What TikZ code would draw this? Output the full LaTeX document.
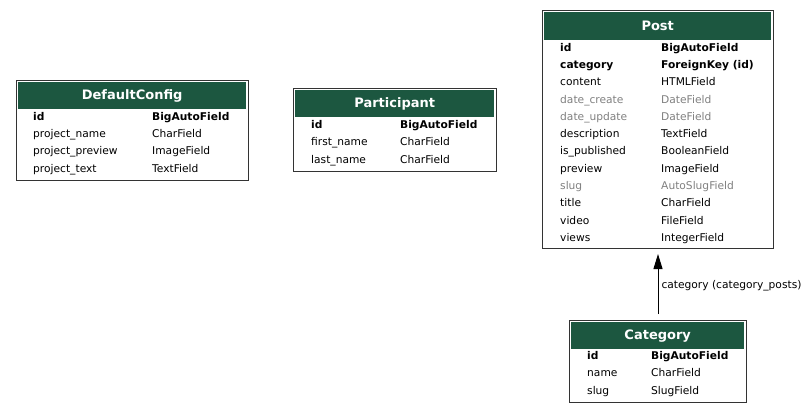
\documentclass[tikz,border=0pt]{standalone}
\usepackage{fontspec}
\setmainfont{DejaVu Sans}
\usetikzlibrary{arrows.meta}
\definecolor{headgreen}{HTML}{1C5740}
\definecolor{dimtext}{HTML}{808080}

\begin{document}
\begin{tikzpicture}
[x=1pt,y=-1pt,%
  model/.style={draw=black!80,line width=1pt,anchor=north west,inner sep=0pt},%
  head/.style={fill=headgreen,anchor=north west,inner sep=0pt,text=white,%
    font=\fontsize{13}{15}\selectfont\bfseries},%
  fld/.style={anchor=west,inner sep=0pt,text height=9pt,text depth=1pt,%
    font=\fontsize{10.67}{12}\selectfont},%
  pkfld/.style={fld,font=\fontsize{10.67}{12}\selectfont\bfseries},%
  dimfld/.style={fld,text=dimtext}]
\useasboundingbox (0,0) rectangle (808,413);

% DefaultConfig
\node[model,minimum width=232pt,minimum height=100pt] (defaultconfig) at (16,80) {};
\node[head,minimum width=228pt,minimum height=27pt] (defaultconfig-head) at (18,82) {DefaultConfig};
\node[pkfld] (defaultconfig-id) at (33,116.5) {id};
\node[pkfld] (defaultconfig-idtype) at (152,116.5) {BigAutoField};
\foreach \n/\t [count=\i] in {project\_name/CharField,project\_preview/ImageField,project\_text/TextField}
{
  \node[fld] (defaultconfig-f\i) at (33,116.5+17.2*\i) {\n};
  \node[fld] (defaultconfig-t\i) at (152,116.5+17.2*\i) {\t};
}

% Participant
\node[model,minimum width=203pt,minimum height=83pt] (participant) at (293,88) {};
\node[head,minimum width=199pt,minimum height=27pt] (participant-head) at (295,90) {Participant};
\node[pkfld] (participant-id) at (311,124.3) {id};
\node[pkfld] (participant-idtype) at (400,124.3) {BigAutoField};
\foreach \n/\t [count=\i] in {first\_name/CharField,last\_name/CharField}
{
  \node[fld] (participant-f\i) at (311,124.3+17.5*\i) {\n};
  \node[fld] (participant-t\i) at (400,124.3+17.5*\i) {\t};
}

% Post
\node[model,minimum width=231pt,minimum height=238pt] (post) at (542,10) {};
\node[head,minimum width=227pt,minimum height=28pt] (post-head) at (544,12) {Post};
\node[pkfld] (post-id) at (560,47.3) {id};
\node[pkfld] (post-idtype) at (661,47.3) {BigAutoField};
\node[pkfld] (post-category) at (560,64.6) {category};
\node[pkfld] (post-categorytype) at (661,64.6) {ForeignKey (id)};
\foreach \n/\t/\s [count=\i from 2] in {content/HTMLField/fld,date\_create/DateField/dimfld,%
  date\_update/DateField/dimfld,description/TextField/fld,is\_published/BooleanField/fld,%
  preview/ImageField/fld,slug/AutoSlugField/dimfld,title/CharField/fld,%
  video/FileField/fld,views/IntegerField/fld}
{
  \node[\s] (post-f\i) at (560,47.3+17.27*\i) {\n};
  \node[\s] (post-t\i) at (661,47.3+17.27*\i) {\t};
}

% Category
\node[model,minimum width=177pt,minimum height=82pt] (category) at (569,320) {};
\node[head,minimum width=173pt,minimum height=27pt] (category-head) at (571,322) {Category};
\node[pkfld] (category-id) at (587,355) {id};
\node[pkfld] (category-idtype) at (651,355) {BigAutoField};
\foreach \n/\t [count=\i] in {name/CharField,slug/SlugField}
{
  \node[fld] (category-f\i) at (587,355+17.5*\i) {\n};
  \node[fld] (category-t\i) at (651,355+17.5*\i) {\t};
}

% relation
\draw[-{Triangle[width=9pt,length=15pt]},line width=1pt,shorten <=6pt,shorten >=5pt]
  (category.north) -- node[fld,anchor=west,xshift=3pt] (category-rel) {category (category\_posts)} (post.south);
\end{tikzpicture}
\end{document}
